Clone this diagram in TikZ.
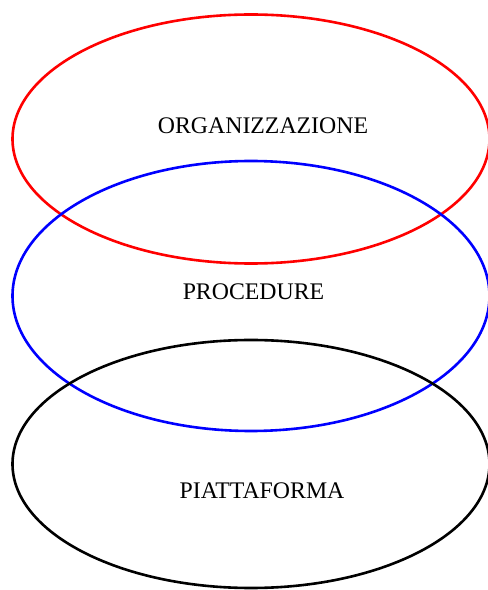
\documentclass[tikz,border=0pt]{standalone}
\usepackage{fontspec}
\setmainfont{Liberation Serif}
\begin{document}
\begin{tikzpicture}[x=1pt,y=1pt,
  ring/.style={line width=2.6pt},
  label/.style={inner sep=0pt,font=\fontsize{23.8}{28}\selectfont}]
\useasboundingbox (0,0) rectangle (488,590);
% three stacked layers
\draw[ring,red]  (251,451) ellipse [x radius=238.5, y radius=124.5];
\draw[ring,blue] (251,294) ellipse [x radius=238.5, y radius=135];
\draw[ring,black](251,126) ellipse [x radius=238.5, y radius=124];
\node[label] (org)  at (263,464) {ORGANIZZAZIONE};
\node[label] (proc) at (253.5,298) {PROCEDURE};
\node[label] (piat) at (262,99) {PIATTAFORMA};
\end{tikzpicture}
\end{document}
